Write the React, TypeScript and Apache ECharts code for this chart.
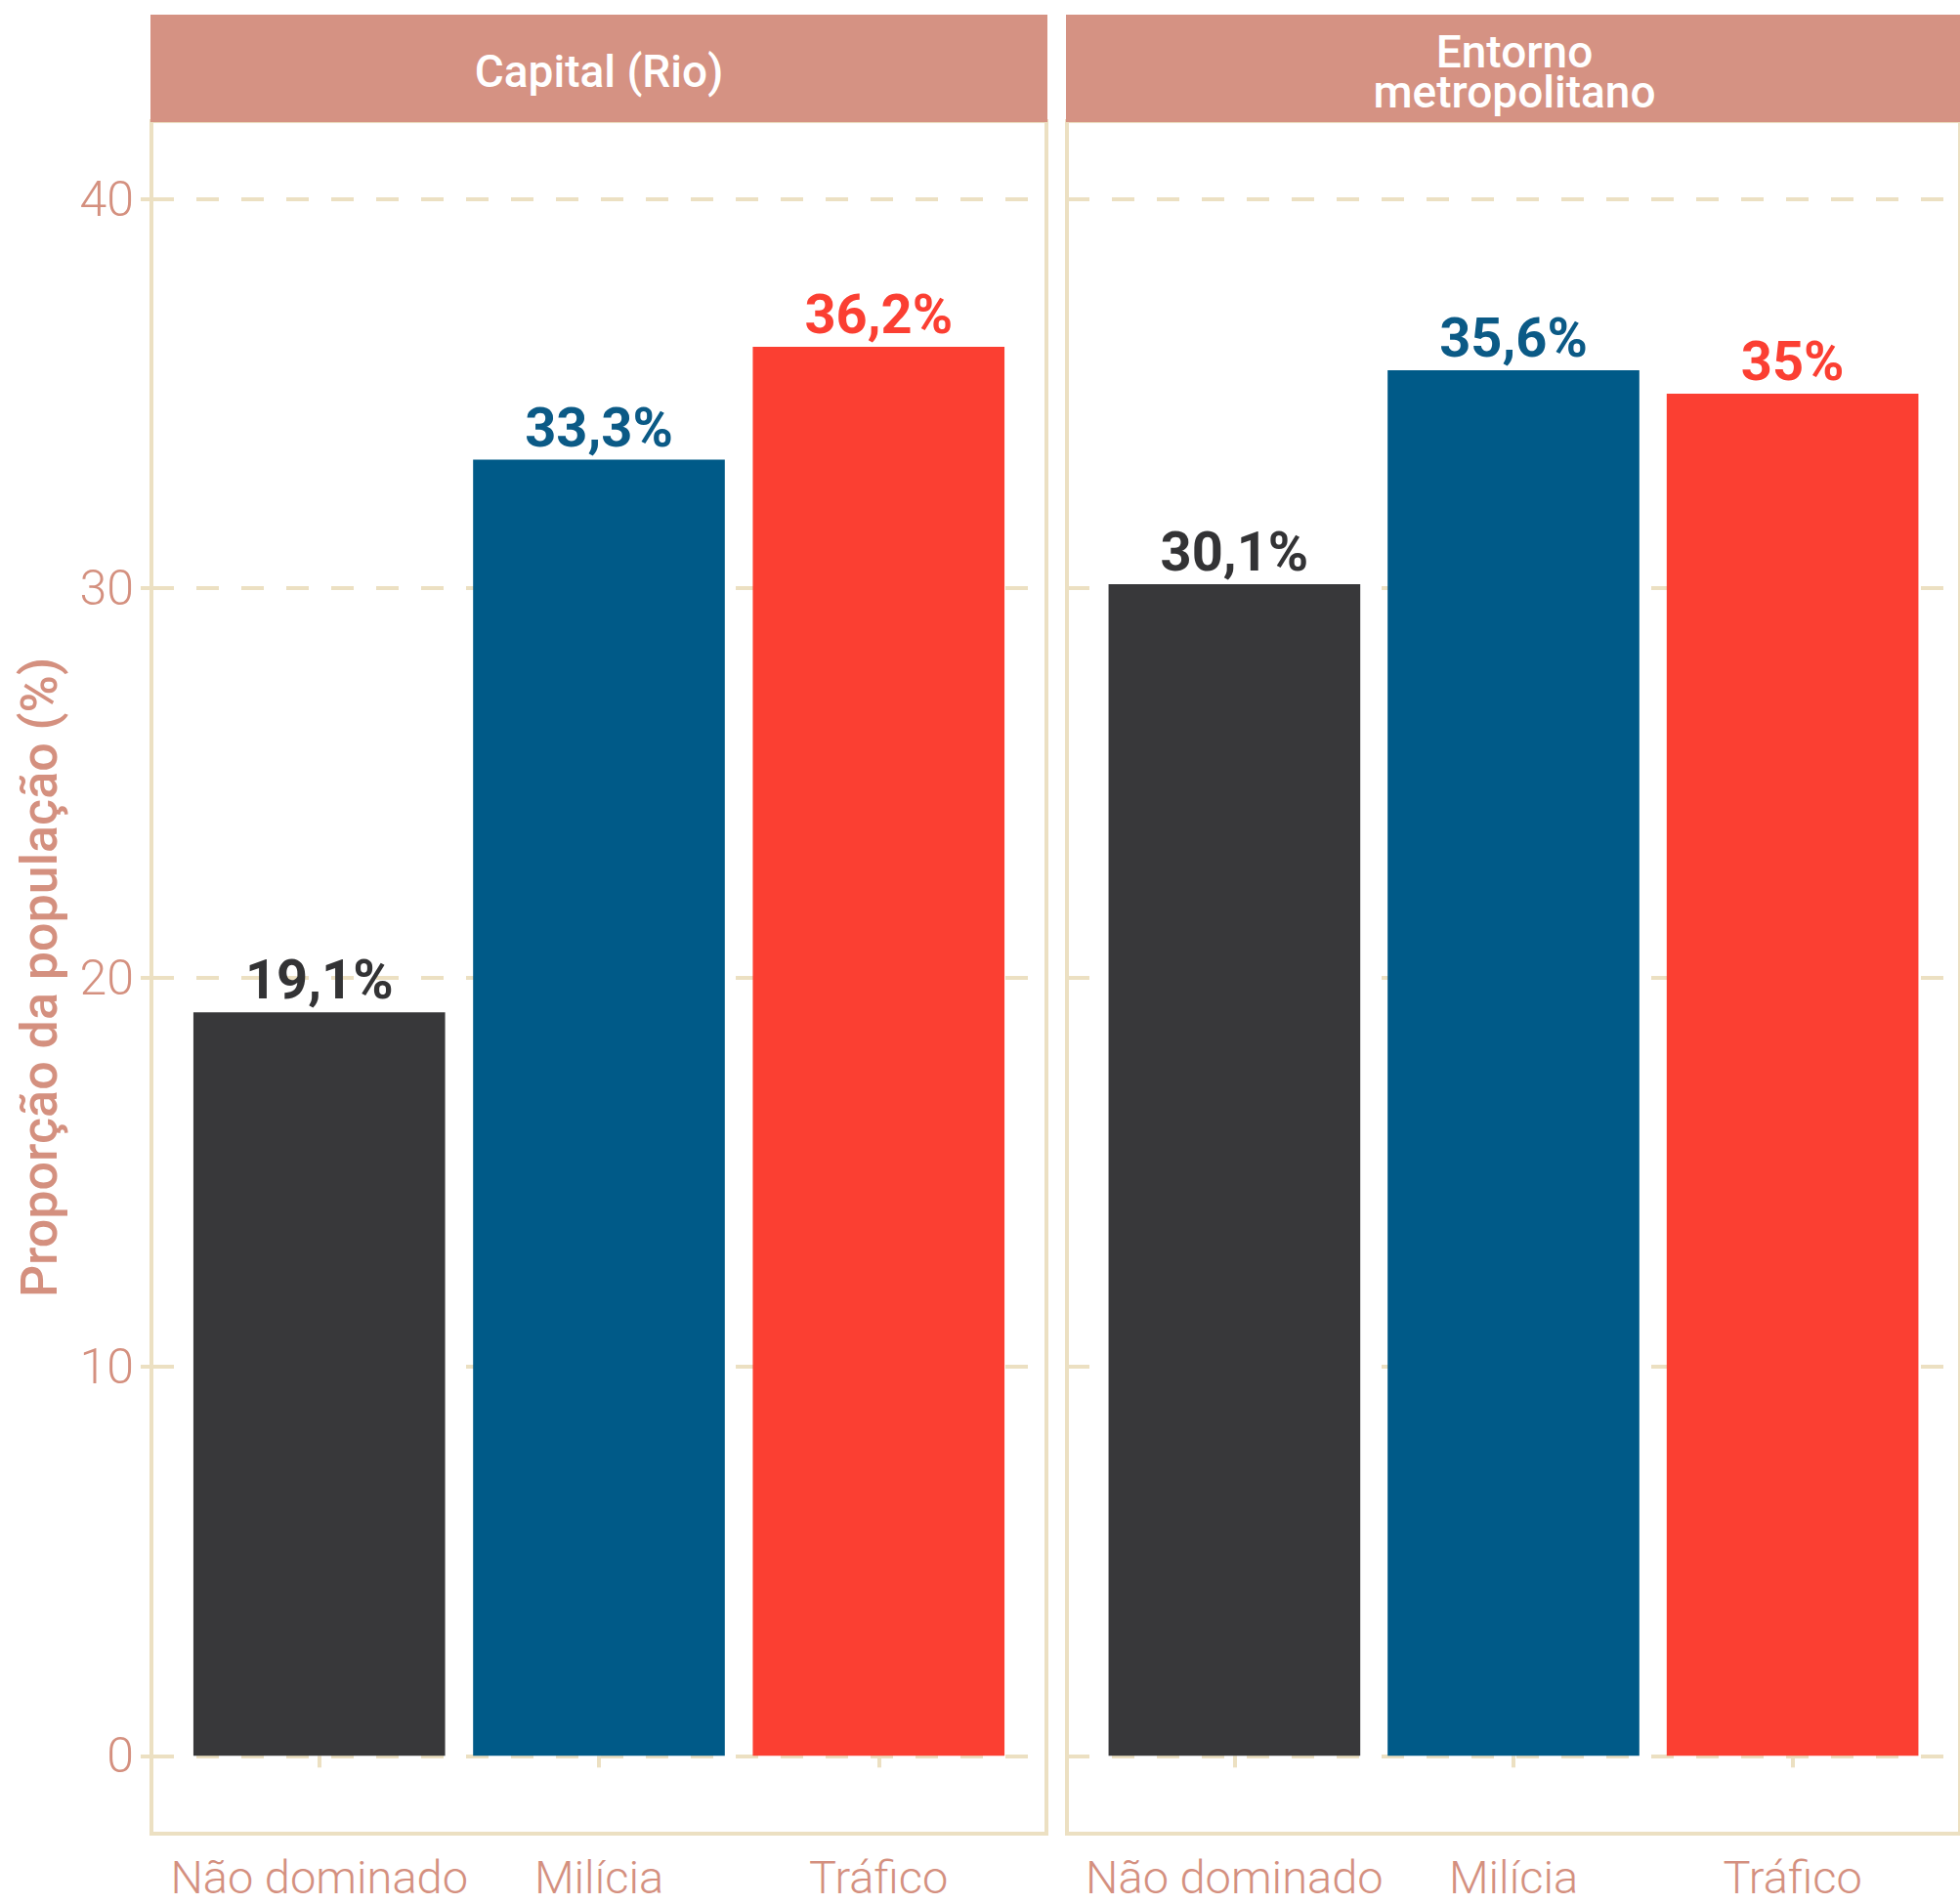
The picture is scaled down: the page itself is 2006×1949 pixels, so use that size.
import React, { useEffect, useRef } from "react";
import * as echarts from "echarts";

const categories = ["Não dominado", "Milícia", "Tráfico"];
const capitalValues = [19.1, 33.3, 36.2];
const entornoValues = [30.1, 35.6, 35.0];
const panelTitles = ["Capital (Rio)", "Entorno\nmetropolitano"];
const yTicks = [0, 10, 20, 30, 40];
const yTitle = "Proporção da população (%)";
const barColors = ["#38383a", "#005a88", "#fb3f32"];
const labelColors = ["#333335", "#0b5a86", "#fb3f32"];

const STRIP = "#d59283";
const SALMON = "#d4907f";
const BEIGE = "#ece0c2";
const FONT = "Roboto";

const PANEL_TOP = 124;
const PANEL_H = 1753;
const PANEL_W = 916;
const PANEL_LEFTS = [155, 1092];
const STRIP_TOP = 15;
const STRIP_H = 110;

const fmt = (v: number) => String(Math.round(v * 10) / 10).replace(".", ",") + "%";

export default function App() {
  const ref = useRef<HTMLDivElement>(null);
  useEffect(() => {
    if (!ref.current) return;
    const chart = echarts.init(ref.current, null, { renderer: "svg" });
    const panels = [capitalValues, entornoValues];
    const unit = PANEL_W / 3.2;
    const grids = PANEL_LEFTS.map((left) => ({
      left,
      top: PANEL_TOP,
      width: PANEL_W,
      height: PANEL_H,
      show: true,
      borderColor: BEIGE,
      borderWidth: 4,
      backgroundColor: "transparent",
      containLabel: false,
    }));
    const xAxes = panels.map((_, gi) => ({
      type: "value",
      gridIndex: gi,
      min: 0.4,
      max: 3.6,
      axisLine: { show: false },
      splitLine: { show: false },
      axisTick: {
        show: true,
        customValues: [1, 2, 3],
        length: 12,
        lineStyle: { color: BEIGE, width: 4 },
      },
      axisLabel: {
        customValues: [1, 2, 3],
        formatter: (v: number) => categories[Math.round(v) - 1] ?? "",
        margin: 22,
        color: SALMON,
        fontFamily: FONT,
        fontWeight: 300,
        fontSize: 47,
        lineHeight: 44,
      },
    }));
    const yAxes = panels.map((_, gi) => ({
      type: "value",
      gridIndex: gi,
      min: -2,
      max: 42,
      axisLine: { show: false },
      axisTick: {
        show: gi === 0,
        customValues: yTicks,
        length: 11,
        lineStyle: { color: BEIGE, width: 4 },
      },
      axisLabel: {
        show: gi === 0,
        customValues: yTicks,
        margin: 18,
        color: SALMON,
        fontFamily: FONT,
        fontWeight: 300,
        fontSize: 50,
      },
      splitLine: {
        show: true,
        showMinLine: true,
        showMaxLine: true,
        lineStyle: { color: BEIGE, width: 4, type: [23, 23] },
      },
    }));
    const series = panels.map((vals, gi) => ({
      type: "bar",
      xAxisIndex: gi,
      yAxisIndex: gi,
      barWidth: unit * 0.9,
      z: 3,
      data: vals.map((v, i) => ({
        value: [i + 1, v],
        itemStyle: { color: barColors[i] },
        label: { color: labelColors[i] },
      })),
      label: {
        show: true,
        position: "top",
        distance: 5,
        fontFamily: FONT,
        fontWeight: 700,
        fontSize: 56,
        formatter: (p: any) => fmt(p.value[1]),
      },
    }));
    const graphic: any[] = [];
    PANEL_LEFTS.forEach((left, i) => {
      graphic.push({
        type: "rect",
        shape: { x: left - 1, y: STRIP_TOP, width: PANEL_W + 2, height: STRIP_H },
        style: { fill: STRIP },
        z: 10,
      });
      graphic.push({
        type: "text",
        x: left + PANEL_W / 2,
        y: STRIP_TOP + STRIP_H / 2 + 3,
        z: 11,
        style: {
          text: panelTitles[i],
          fill: "#ffffff",
          fontFamily: FONT,
          fontWeight: 500,
          fontSize: 46,
          lineHeight: 41,
          align: "center",
          verticalAlign: "middle",
        },
      });
    });
    graphic.push({
      type: "text",
      x: 40,
      y: PANEL_TOP + PANEL_H / 2,
      rotation: Math.PI / 2,
      z: 11,
      style: {
        text: yTitle,
        fill: SALMON,
        fontFamily: FONT,
        fontWeight: 500,
        fontSize: 52,
        align: "center",
        verticalAlign: "middle",
      },
    });
    chart.setOption({
      animation: false,
      backgroundColor: "#ffffff",
      grid: grids,
      xAxis: xAxes,
      yAxis: yAxes,
      series,
      graphic,
    });
    return () => chart.dispose();
  }, []);
  return (
    <div
      ref={ref}
      style={{ position: "absolute", left: 0, top: 0, width: 2006, height: 1949 }}
    />
  );
}
